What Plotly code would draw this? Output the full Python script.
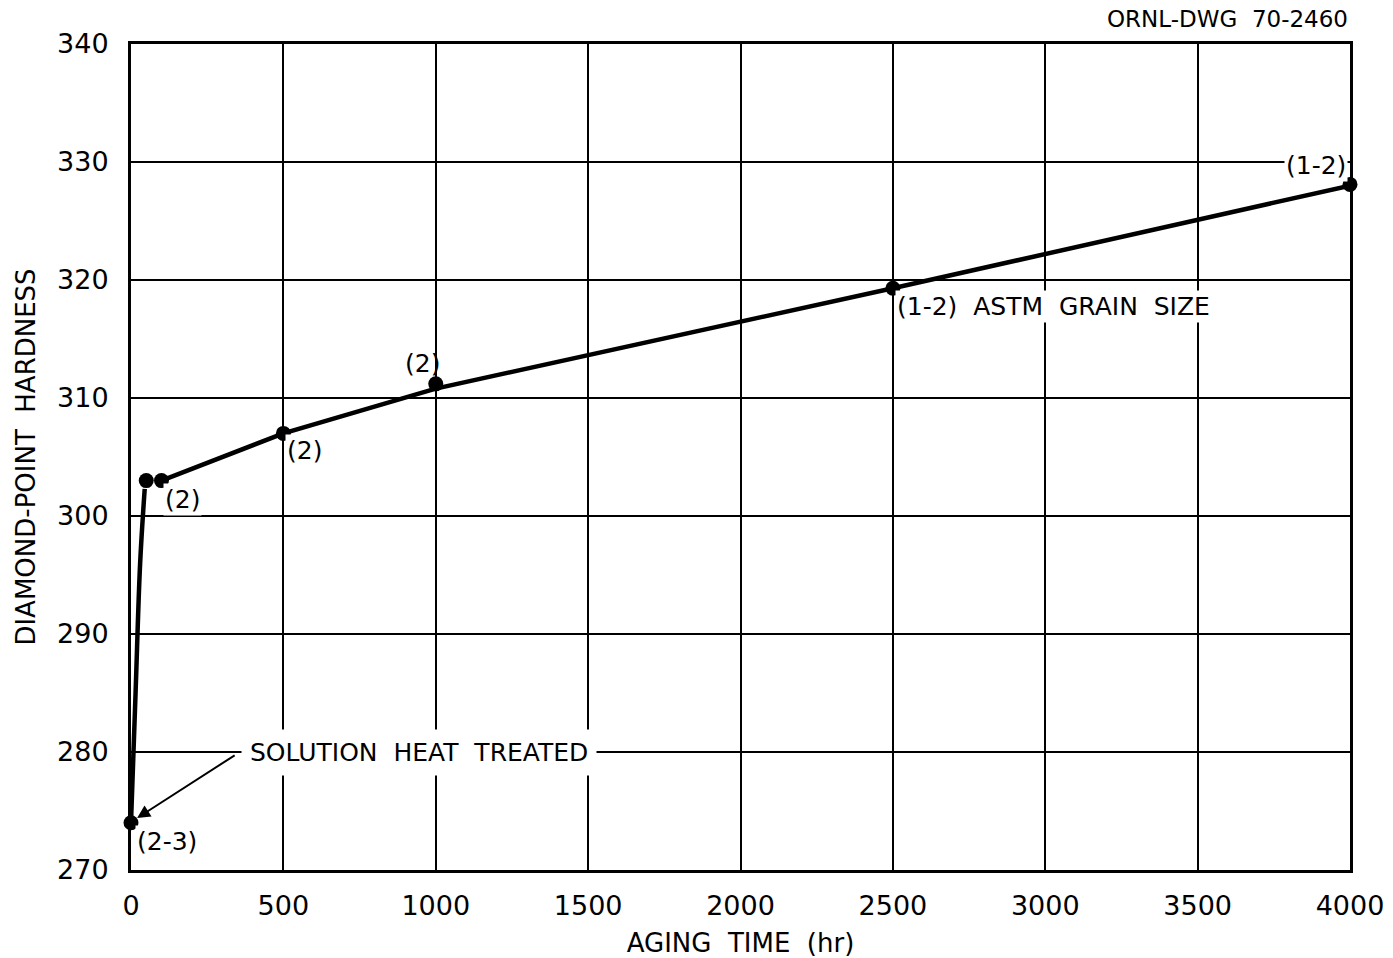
import plotly.graph_objects as go

# measured points
aging_time = [0, 50, 100, 500, 1000, 2500, 4000]
hardness = [274, 303, 303, 307, 311.2, 319.3, 328.1]
point_labels = ["(2-3)", "", "(2)", "(2)", "(2)", "(1-2)  ASTM  GRAIN  SIZE", "(1-2)"]

# hand-drawn trend curve
curve_time = [0, 15, 30, 45]
curve_hardness = [274, 285, 296, 302.3]
trend_time = [100, 500, 1000, 2500, 4000]
trend_hardness = [303, 307, 310.8, 319.3, 328]

x_ticks = [0, 500, 1000, 1500, 2000, 2500, 3000, 3500, 4000]
y_ticks = [270, 280, 290, 300, 310, 320, 330, 340]

FONT = "DejaVu Sans"

fig = go.Figure()
fig.add_trace(go.Scatter(x=curve_time, y=curve_hardness, mode="lines",
                         line=dict(color="black", width=4.5, shape="spline"),
                         showlegend=False, hoverinfo="skip"))
fig.add_trace(go.Scatter(x=trend_time, y=trend_hardness, mode="lines",
                         line=dict(color="black", width=4.5),
                         showlegend=False, hoverinfo="skip"))
fig.add_trace(go.Scatter(x=aging_time, y=hardness, mode="markers",
                         marker=dict(color="black", size=15),
                         cliponaxis=False, showlegend=False))

lab_font = dict(family=FONT, size=25, color="black")
# point labels
fig.add_annotation(x=0, y=274, text=point_labels[0], showarrow=False,
                   xanchor="left", yanchor="top", xshift=4, yshift=-2,
                   font=lab_font, bgcolor="white")
fig.add_annotation(x=100, y=303, text=point_labels[2], showarrow=False,
                   xanchor="left", yanchor="top", xshift=2, yshift=-2,
                   font=lab_font, bgcolor="white")
fig.add_annotation(x=500, y=307, text=point_labels[3], showarrow=False,
                   xanchor="left", yanchor="top", xshift=2, yshift=-1,
                   font=lab_font, bgcolor="white")
fig.add_annotation(x=1000, y=311.2, text=point_labels[4], showarrow=False,
                   xanchor="right", yanchor="bottom", xshift=6, yshift=4,
                   font=lab_font)
fig.add_annotation(x=2500, y=319.3, text=point_labels[5], showarrow=False,
                   xanchor="left", yanchor="top", xshift=2, yshift=-2,
                   font=lab_font, bgcolor="white")
fig.add_annotation(x=4000, y=328.1, text=point_labels[6], showarrow=False,
                   xanchor="right", yanchor="bottom", xshift=-2, yshift=2,
                   font=lab_font, bgcolor="white")

# solution heat treated
fig.add_annotation(x=360, y=280, text="SOLUTION  HEAT  TREATED", showarrow=False,
                   xanchor="left", yanchor="middle", font=lab_font,
                   bgcolor="white", borderpad=8)
fig.add_annotation(x=20, y=274.4, ax=345, ay=279.8, xref="x", yref="y",
                   axref="x", ayref="y", text="", showarrow=True,
                   arrowhead=2, arrowsize=1.3, arrowwidth=2, arrowcolor="black")

fig.add_annotation(x=1, y=1, xref="paper", yref="paper", yshift=10,
                   text="ORNL-DWG  70-2460", showarrow=False,
                   xanchor="right", yanchor="bottom",
                   font=dict(family=FONT, size=23, color="black"))

fig.update_xaxes(range=[0, 4000], tickvals=x_ticks, showgrid=True,
                 gridcolor="black", gridwidth=2, zeroline=False,
                 showline=True, linecolor="black", linewidth=3, mirror=True,
                 ticks="", ticklabelstandoff=10, automargin=False,
                 tickfont=dict(family=FONT, size=27, color="black"),
                 title=dict(text="AGING  TIME  (hr)",
                            font=dict(family=FONT, size=26, color="black"),
                            standoff=16))
fig.update_yaxes(range=[270, 340], tickvals=y_ticks, showgrid=True,
                 gridcolor="black", gridwidth=2, zeroline=False,
                 showline=True, linecolor="black", linewidth=3, mirror=True,
                 ticks="", ticklabelstandoff=14, automargin=False,
                 tickfont=dict(family=FONT, size=27, color="black"),
                 title=dict(text="DIAMOND-POINT  HARDNESS",
                            font=dict(family=FONT, size=26, color="black"),
                            standoff=14))

fig.update_layout(width=1393, height=958, plot_bgcolor="white",
                  paper_bgcolor="white",
                  margin=dict(l=131, r=43, t=44, b=88))

fig.write_html("out.html")
